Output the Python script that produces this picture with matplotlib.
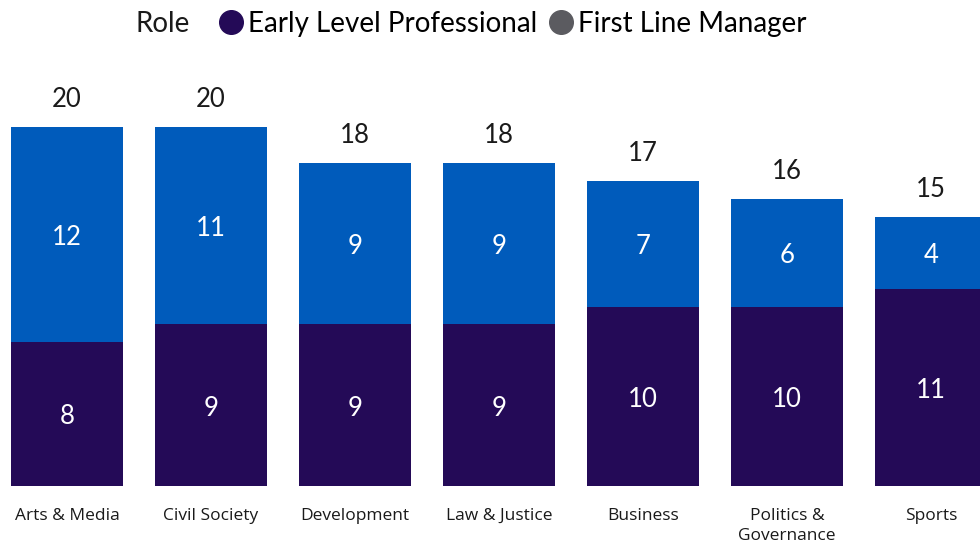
import numpy as np
import matplotlib
matplotlib.use("Agg")
import matplotlib.pyplot as plt
from matplotlib.lines import Line2D

# data
categories = ["Arts & Media", "Civil Society", "Development", "Law & Justice",
              "Business", "Politics &\nGovernance", "Sports"]
early_level = [8, 9, 9, 9, 10, 10, 11]
first_line = [12, 11, 9, 9, 7, 6, 4]

PURPLE = "#240A57"
BLUE = "#005BBB"
GREY = "#5B5B60"
INK = "#1a1a1a"
NUMFONT = "Lato"

fig = plt.figure(figsize=(9.8, 5.47), dpi=100)
# axes spans full width; baseline at y=486px, 17.95 px per unit
px_unit = 17.95
ymax = 24
bottom = (547 - 486) / 547
ax = fig.add_axes([0, bottom, 1, ymax * px_unit / 547])

x = np.arange(len(categories))
w = 112 / 144
ax.bar(x, early_level, width=w, color=PURPLE, zorder=3)
ax.bar(x, first_line, width=w, bottom=early_level, color=BLUE, zorder=3)
ax.set_xlim(-67 / 144, (980 - 67) / 144)
ax.set_ylim(0, ymax)

for xi, a, b in zip(x, early_level, first_line):
    ax.annotate(str(a), (xi, a / 2), xytext=(0, -2), textcoords="offset points",
                ha="center", va="center", color="white", fontsize=18.5, family=NUMFONT)
    ax.annotate(str(b), (xi, a + b / 2), xytext=(0, -2), textcoords="offset points",
                ha="center", va="center", color="white", fontsize=18.5, family=NUMFONT)
    ax.annotate(str(a + b), (xi, a + b), xytext=(0, 19.5), textcoords="offset points",
                ha="center", va="center", color=INK, fontsize=18.5, family=NUMFONT)

ax.set_xticks(x)
ax.set_xticklabels(categories, fontsize=12.5, family="Open Sans", color=INK,
                   linespacing=1.3, va="top")
ax.tick_params(axis="x", length=0, pad=16)
ax.set_yticks([])
for sp in ax.spines.values():
    sp.set_visible(False)

# legend row
fig.text(135 / 980, 1 - 24 / 547, "Role", ha="left", va="center",
         fontsize=20, family=NUMFONT, color=INK)
handles = [Line2D([], [], ls="none", marker="o", markersize=17, color=PURPLE),
           Line2D([], [], ls="none", marker="o", markersize=17, color=GREY)]
fig.legend(handles, ["Early Level Professional", "First Line Manager"],
           loc="center left", bbox_to_anchor=(205 / 980, 1 - 24 / 547),
           ncol=2, frameon=False, borderpad=0, handletextpad=0.15,
           handlelength=0.9, columnspacing=0.4,
           prop={"family": NUMFONT, "size": 20})

fig.savefig("out.png", dpi=100)
